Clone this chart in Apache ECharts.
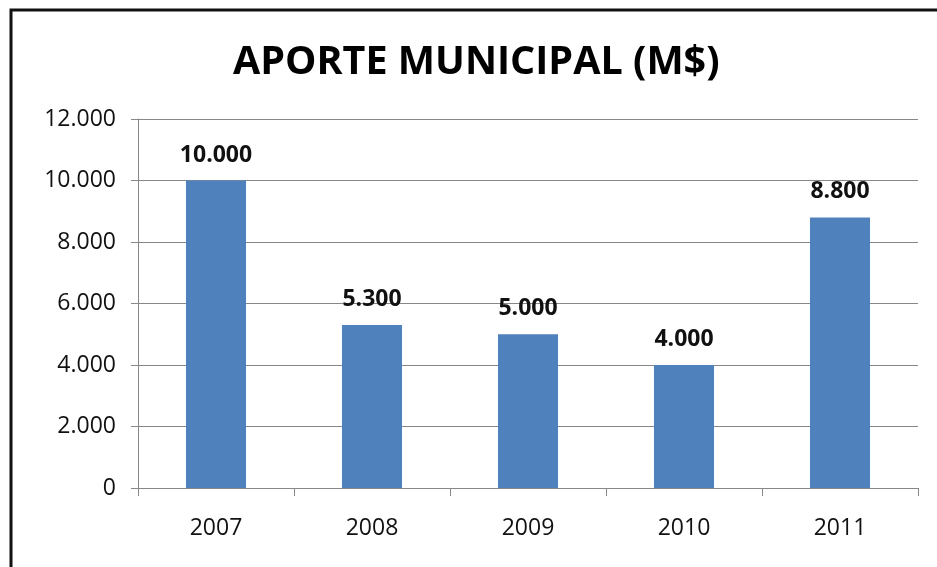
<!DOCTYPE html>
<html>
<head>
<meta charset="utf-8">
<script src="https://cdn.jsdelivr.net/npm/echarts@6/dist/echarts.min.js"></script>
<style>
  html, body { margin: 0; padding: 0; background: #fff; }
  #chart { width: 937px; height: 567px; }
</style>
</head>
<body>
<div id="chart"></div>
<script>
// datos
const years = ['2007', '2008', '2009', '2010', '2011']
const aporte = [10000, 5300, 5000, 4000, 8800]
const yTicks = { min: 0, max: 12000, interval: 2000 }

// 10000 -> "10.000"
const fmt = (v) => String(v).replace(/\B(?=(\d{3})+(?!\d))/g, '.')

const chart = echarts.init(document.getElementById('chart'))

const option = {
  backgroundColor: '#fff',
  animation: false,
  title: {
    text: 'APORTE MUNICIPAL (M$)',
    left: 228,
    top: 38,
    textStyle: {
      fontFamily: 'Open Sans',
      fontWeight: 'bold',
      fontSize: 39.5,
      color: '#000'
    }
  },
  graphic: [{
    type: 'rect',
    shape: { x: 11, y: 10, width: 960, height: 600 },
    style: { fill: 'none', stroke: '#111', lineWidth: 3 },
    silent: true
  }],
  grid: {
    left: 138,
    right: 19,
    top: 119,
    bottom: 79
  },
  xAxis: {
    type: 'category',
    data: years,
    axisLine: { lineStyle: { color: '#888', width: 1 } },
    axisTick: { show: true, length: 8, lineStyle: { color: '#888' } },
    axisLabel: {
      margin: 29,
      fontFamily: 'Open Sans',
      fontSize: 23,
      color: '#111'
    }
  },
  yAxis: {
    type: 'value',
    min: yTicks.min,
    max: yTicks.max,
    interval: yTicks.interval,
    axisLine: { show: true, lineStyle: { color: '#888', width: 1 } },
    axisTick: { show: true, length: 7, lineStyle: { color: '#888' } },
    splitLine: { lineStyle: { color: '#888', width: 1 } },
    axisLabel: {
      margin: 22,
      fontFamily: 'Open Sans',
      fontSize: 23,
      color: '#111',
      formatter: fmt
    }
  },
  series: [{
    type: 'bar',
    data: aporte,
    barWidth: '38.5%',
    itemStyle: { color: '#4F81BD' },
    label: {
      show: true,
      position: 'top',
      distance: 14,
      fontFamily: 'Open Sans',
      fontWeight: 'bold',
      fontSize: 23,
      color: '#111',
      formatter: (p) => fmt(p.value)
    }
  }]
}

chart.setOption(option)
</script>
</body>
</html>
